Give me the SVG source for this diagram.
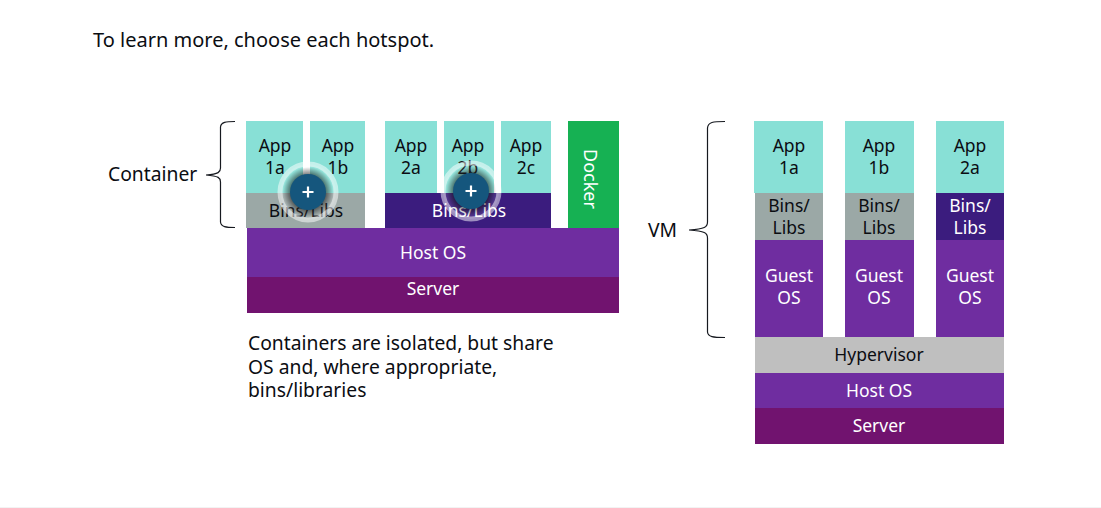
<svg xmlns="http://www.w3.org/2000/svg" width="1101" height="508" viewBox="0 0 1101 508">
<style>
text{font-family:"Noto Sans","Open Sans",sans-serif;font-size:17.500px;text-anchor:middle;fill:#0b0d12}
.w{fill:#fff}
.l{text-anchor:start;font-size:19.300px}
.app{fill:#88e0d6}.grey{fill:#9ba8a6}.navy{fill:#3b1c7e}.purple{fill:#6f2da0}.server{fill:#71136f}.hyp{fill:#bfbfbf}
.brace{fill:none;stroke:#16191f;stroke-width:1.200}
</style>
<defs>
<radialGradient id="sh"><stop offset="0.7" stop-color="#000" stop-opacity="0.5"/><stop offset="1" stop-color="#000" stop-opacity="0"/></radialGradient>
<g id="hot">
<circle r="28" fill="#fff" fill-opacity="0.1"/>
<circle r="28" fill="none" stroke="#fff" stroke-opacity="0.5" stroke-width="5"/>
<circle r="25" fill="url(#sh)"/>
<circle r="18" fill="#15567d"/>
<path d="M-5.500 0H5.500M0-5.500V5.500" stroke="#fff" stroke-width="2.200" fill="none"/>
</g>
</defs>
<rect width="1101" height="508" fill="#fff"/>
<text class="l" x="93" y="47" style="font-size:20px">To learn more, choose each hotspot.</text>
<g id="container-stack">
<g id="c-app1a"><rect class="app" x="246" y="121" width="57" height="72"/><text x="275" y="152">App</text><text x="275" y="174">1a</text></g>
<g id="c-app1b"><rect class="app" x="310" y="121" width="55" height="72"/><text x="338" y="152">App</text><text x="338" y="174">1b</text></g>
<g id="c-bins1"><rect class="grey" x="246" y="193" width="119" height="35"/><text x="306" y="216.500">Bins/Libs</text></g>
<g id="c-app2a"><rect class="app" x="385" y="121" width="52" height="72"/><text x="411" y="152">App</text><text x="411" y="174">2a</text></g>
<g id="c-app2b"><rect class="app" x="444" y="121" width="50" height="72"/><text x="468" y="152">App</text><text x="468" y="174">2b</text></g>
<g id="c-app2c"><rect class="app" x="501" y="121" width="50" height="72"/><text x="526" y="152">App</text><text x="526" y="174">2c</text></g>
<g id="c-bins2"><rect class="navy" x="385" y="193" width="166" height="35"/><text class="w" x="469" y="216.500">Bins/Libs</text></g>
<g id="c-docker"><rect x="568" y="121" width="51" height="107" fill="#16b153"/><text class="w" transform="translate(584 179) rotate(90)" x="0" y="0" style="font-size:18px">Docker</text></g>
<g id="c-host"><rect class="purple" x="247" y="228" width="372" height="49"/><text class="w" x="433" y="258.500">Host OS</text></g>
<g id="c-server"><rect class="server" x="247" y="277" width="372" height="36"/><text class="w" x="433" y="294.500">Server</text></g>
</g>
<g id="hotspot-1" transform="translate(308 192)"><use href="#hot"/></g>
<g id="hotspot-2" transform="translate(471 191)"><use href="#hot"/></g>
<g id="container-label">
<text class="l" x="108" y="180.500">Container</text>
<path class="brace" d="M235 121.500C226 121.500 221 122 220.500 127V168C220.500 172 219 174 206 175C219 176 220.500 178 220.500 182V222C221 227 226 227.500 235 227.500"/>
</g>
<g id="caption">
<text class="l"><tspan x="248" y="350">Containers are isolated, but share</tspan><tspan x="248" y="374">OS and, where appropriate,</tspan><tspan x="248" y="397">bins/libraries</tspan></text>
</g>
<g id="vm-stack">
<g id="v-col1"><rect class="app" x="754" y="121" width="69" height="72"/><text x="789" y="152">App</text><text x="789" y="174">1a</text>
<rect class="grey" x="755" y="193" width="68" height="47"/><text x="789" y="212">Bins/</text><text x="789" y="234">Libs</text>
<rect class="purple" x="755" y="240" width="68" height="97"/><text class="w" x="789" y="282">Guest</text><text class="w" x="789" y="304">OS</text></g>
<g id="v-col2"><rect class="app" x="845" y="121" width="69" height="72"/><text x="879" y="152">App</text><text x="879" y="174">1b</text>
<rect class="grey" x="845" y="193" width="69" height="47"/><text x="879" y="212">Bins/</text><text x="879" y="234">Libs</text>
<rect class="purple" x="845" y="240" width="69" height="97"/><text class="w" x="879" y="282">Guest</text><text class="w" x="879" y="304">OS</text></g>
<g id="v-col3"><rect class="app" x="936" y="121" width="68" height="72"/><text x="970" y="152">App</text><text x="970" y="174">2a</text>
<rect class="navy" x="936" y="193" width="68" height="47"/><text class="w" x="970" y="212">Bins/</text><text class="w" x="970" y="234">Libs</text>
<rect class="purple" x="936" y="240" width="68" height="97"/><text class="w" x="970" y="282">Guest</text><text class="w" x="970" y="304">OS</text></g>
<g id="v-hyp"><rect class="hyp" x="755" y="337" width="249" height="36"/><text x="879" y="361">Hypervisor</text></g>
<g id="v-host"><rect class="purple" x="755" y="373" width="249" height="35"/><text class="w" x="879" y="397">Host OS</text></g>
<g id="v-server"><rect class="server" x="755" y="408" width="249" height="36"/><text class="w" x="879" y="432">Server</text></g>
</g>
<g id="vm-label">
<text class="l" x="648" y="237">VM</text>
<path class="brace" d="M725 121.500C713 121.500 708 122 707.500 128V222C707.500 227 705 229 689 230C705 231 707.500 233 707.500 238V332C708 337 713 337.500 725 337.500"/>
</g>
<path d="M0 507.500H1101" stroke="#f2f3f3" stroke-width="1"/>
</svg>
